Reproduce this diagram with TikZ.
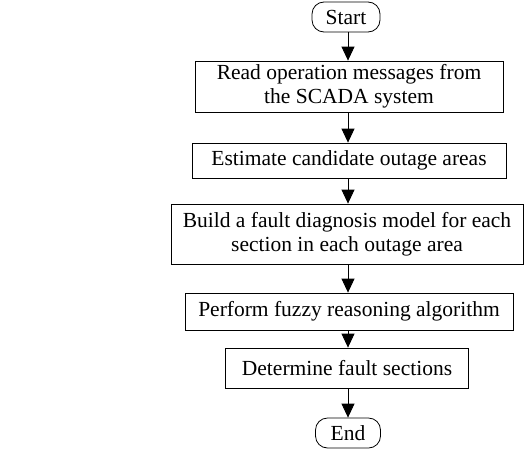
\documentclass[tikz,border=0pt]{standalone}
\usepackage{fontspec}
\setmainfont{Liberation Serif}
\usetikzlibrary{arrows.meta}
\begin{document}
\begin{tikzpicture}[x=1pt,y=-1pt,
  box/.style={draw, line width=0.8pt, inner sep=0pt, align=center, font=\fontsize{21.5}{24}\selectfont},
  term/.style={box, rounded corners=12pt},
  flow/.style={draw, line width=0.8pt, -{Triangle[length=14pt,width=13pt]}}]
\useasboundingbox (0,0) rectangle (526,455);
\node[term, minimum width=68pt, minimum height=30pt] (start) at (346,17) {Start};
\node[box, minimum width=308pt, minimum height=51pt] (b1) at (349,86.5) {Read operation messages from\\the SCADA system};
\node[box, minimum width=314pt, minimum height=35pt] (b2) at (349,160.5) {Estimate candidate outage areas};
\node[box, minimum width=352pt, minimum height=60pt] (b3) at (347,234) {Build a fault diagnosis model for each\\section in each outage area};
\node[box, minimum width=328pt, minimum height=37pt] (b4) at (349,311.5) {Perform fuzzy reasoning algorithm};
\node[box, minimum width=243pt, minimum height=40pt] (b5) at (347,368) {Determine fault sections};
\node[term, minimum width=65pt, minimum height=30pt] (end) at (348,433) {End};
\draw[flow] (start.south -| 348,0) -- (b1.north -| 348,0);
\draw[flow] (b1.south -| 348,0) -- (b2.north -| 348,0);
\draw[flow] (b2.south -| 348,0) -- (b3.north -| 348,0);
\draw[flow] (b3.south -| 348,0) -- (b4.north -| 348,0);
\draw[flow] (b4.south -| 348,0) -- (b5.north -| 348,0);
\draw[flow] (b5.south -| 348,0) -- (end.north -| 348,0);
\end{tikzpicture}
\end{document}
